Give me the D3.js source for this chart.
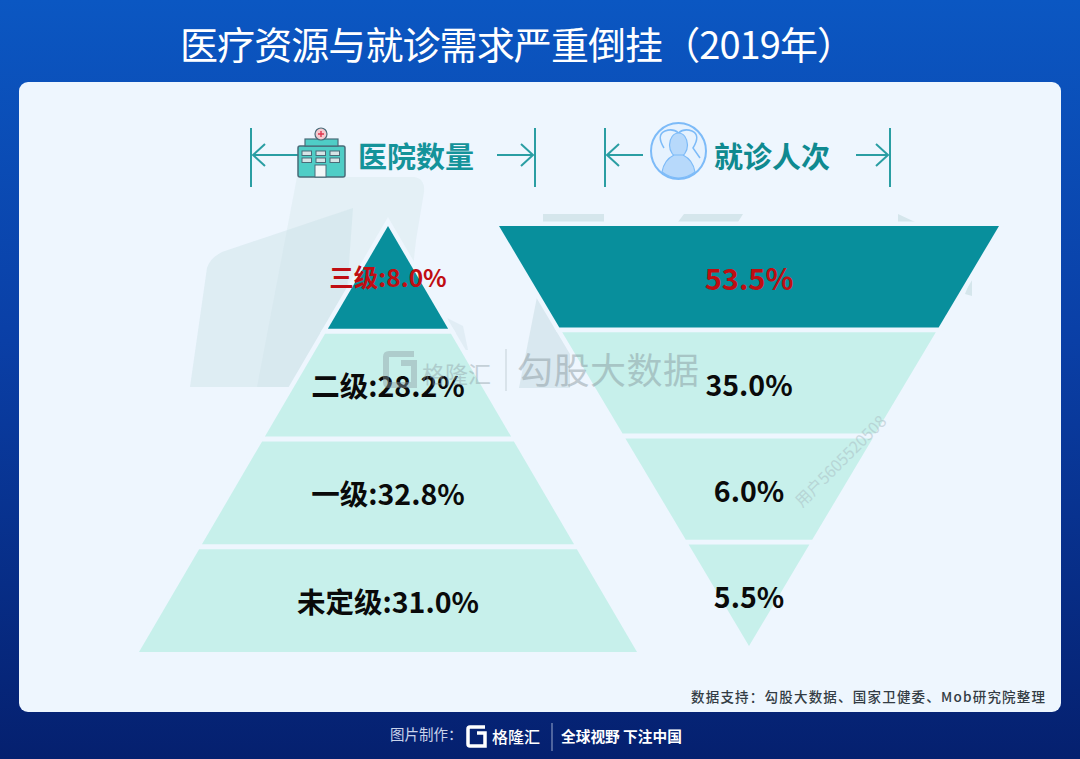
<!DOCTYPE html>
<html>
<head>
<meta charset="utf-8">
<script src="https://cdn.jsdelivr.net/npm/d3@7"></script>
<style>
  html, body { margin: 0; padding: 0; background: #0a2a8a; }
  svg { display: block; }
  text { font-family: "Noto Sans CJK SC", "Noto Sans", sans-serif; }
</style>
</head>
<body>
<div id="chart"></div>
<script>
// Chart data
var titleText = "医疗资源与就诊需求严重倒挂（2019年）";
var sourceText = "数据支持：勾股大数据、国家卫健委、Mob研究院整理";
var hospitalHeader = "医院数量";
var visitHeader = "就诊人次";
var tiers = ["三级", "二级", "一级", "未定级"];
var hospitalShare = [8.0, 28.2, 32.8, 31.0];
var visitShare = [53.5, 35.0, 6.0, 5.5];

var svgWidth = 1080;
var svgHeight = 759;
var cardColor = "#eef6fe";

var svg = d3.select("#chart").append("svg")
  .attr("width", svgWidth)
  .attr("height", svgHeight);

// Page background and card
var defs = svg.append("defs");
var grad = defs.append("linearGradient")
  .attr("id", "bg").attr("x1", 0).attr("y1", 0).attr("x2", 0).attr("y2", 1);
grad.append("stop").attr("offset", "0%").attr("stop-color", "#0b57c2");
grad.append("stop").attr("offset", "45%").attr("stop-color", "#0a3fa6");
grad.append("stop").attr("offset", "100%").attr("stop-color", "#05206f");

svg.append("rect").attr("width", svgWidth).attr("height", svgHeight).attr("fill", "url(#bg)");
svg.append("rect")
  .attr("x", 19).attr("y", 82).attr("width", 1042).attr("height", 630).attr("rx", 9)
  .attr("fill", cardColor);

svg.append("text")
  .attr("x", 180).attr("y", 59)
  .attr("font-size", 38).attr("font-weight", 400).attr("fill", "#fff")
  .attr("textLength", 675)
  .text(titleText);

// Faint shapes behind the pyramids, the halo in drawStack trims them
var ghost = svg.append("g");
ghost.append("path")
  .attr("d", "M297 177 H414 Q425 178 424 192 L416 240 L400 387 H257 Z")
  .attr("fill", "#cfe6e8").attr("opacity", 0.34);
ghost.append("path")
  .attr("d", "M353 208 L340 387 H190 L207 268 Q210 258 222 252 Z")
  .attr("fill", "#c9e0e4").attr("opacity", 0.42);
ghost.append("path")
  .attr("d", "M447 318 L463 326 L468 350 L455 350 Z")
  .attr("fill", "#c9dce4").attr("opacity", 0.35);
ghost.append("path")
  .attr("d", "M537 297 L519 388 H570 V340 Z")
  .attr("fill", "#c9dce4").attr("opacity", 0.55);
ghost.append("path").attr("d", "M543 214 H604 V222 H543 Z").attr("fill", "#d5e6ec");
ghost.append("path").attr("d", "M684 214 H743 L738 222 H678 Z").attr("fill", "#d5e6ec");
ghost.append("path").attr("d", "M898 214 L915 222 H898 Z").attr("fill", "#d5e6ec");
ghost.append("path").attr("d", "M972 276 V296 L965 294 Z").attr("fill", "#d5e6ec");

// Both shapes share the same rows; only the outline direction differs
function drawStack(opts) {
  var g = svg.append("g");

  var yScale = d3.scaleBand()
    .domain(tiers)
    .range(opts.yRange)
    .paddingInner(opts.gap);

  // half width grows linearly from the tip to the wide end
  var halfWidth = d3.scaleLinear()
    .domain([opts.tipY, opts.wideY])
    .range([0, opts.maxHalf]);

  var outline = d3.line();

  function sliceCorners(t) {
    var y0 = yScale(t);
    var y1 = y0 + yScale.bandwidth();
    return [
      [opts.cx - halfWidth(y0), y0],
      [opts.cx + halfWidth(y0), y0],
      [opts.cx + halfWidth(y1), y1],
      [opts.cx - halfWidth(y1), y1]
    ];
  }

  // card coloured halo under the slices
  g.selectAll("path.halo").data(tiers).enter()
    .append("path")
    .attr("class", "halo")
    .attr("d", function(t) { return outline(sliceCorners(t)) + "Z"; })
    .attr("fill", cardColor)
    .attr("stroke", cardColor)
    .attr("stroke-width", 9);

  g.selectAll("path.slice").data(tiers).enter()
    .append("path")
    .attr("class", "slice")
    .attr("d", function(t) { return outline(sliceCorners(t)) + "Z"; })
    .attr("fill", function(t, i) { return i === 0 ? "#088f9c" : "#c7f0eb"; });

  g.selectAll("text.value").data(tiers).enter()
    .append("text")
    .attr("class", "value")
    .attr("x", opts.cx)
    .attr("y", function(t, i) { return yScale(t) + yScale.bandwidth() / 2 + (i === 0 ? opts.firstDy : opts.textDy); })
    .attr("text-anchor", "middle")
    .attr("font-size", function(t, i) { return i === 0 ? opts.firstFont : 28.5; })
    .attr("font-weight", 700)
    .attr("fill", function(t, i) { return i === 0 ? "#c00d12" : "#0a0a0a"; })
    .text(function(t, i) { return opts.label(t, opts.values[i]); });
}

drawStack({
  values: hospitalShare,
  cx: 388, tipY: 226, wideY: 652, maxHalf: 249,
  yRange: [226, 652], gap: 0.045, textDy: 12, firstDy: 10, firstFont: 24.5,
  label: function(t, v) { return t + ":" + v.toFixed(1) + "%"; }
});

drawStack({
  values: visitShare,
  cx: 749, tipY: 646, wideY: 226, maxHalf: 250,
  yRange: [226, 646], gap: 0.045, textDy: 13, firstDy: 13, firstFont: 29,
  label: function(t, v) { return v.toFixed(1) + "%"; }
});

// Column headers with dimension arrows
function drawBracket(x0, x1, arrowL, arrowR) {
  var g = svg.append("g")
    .attr("stroke", "#2a9ea3").attr("stroke-width", 2).attr("fill", "none");
  g.append("path").attr("d", "M" + x0 + " 128 V187 M" + x1 + " 128 V187");
  g.append("path").attr("d", "M" + arrowL + " 155 H" + (x0 + 2) + " M" + (x0 + 14) + " 144 L" + (x0 + 2) + " 155 L" + (x0 + 14) + " 166");
  g.append("path").attr("d", "M" + arrowR + " 155 H" + (x1 - 2) + " M" + (x1 - 14) + " 144 L" + (x1 - 2) + " 155 L" + (x1 - 14) + " 166");
}
drawBracket(251, 535, 298, 497);
drawBracket(605, 890, 643, 856);

svg.append("text").attr("x", 358).attr("y", 168)
  .attr("font-size", 29).attr("font-weight", 700).attr("fill", "#14939a")
  .text(hospitalHeader);
svg.append("text").attr("x", 714).attr("y", 168)
  .attr("font-size", 29).attr("font-weight", 700).attr("fill", "#0f8a90")
  .text(visitHeader);

// Hospital icon
var hosp = svg.append("g");
hosp.append("rect").attr("x", 298).attr("y", 146).attr("width", 47).attr("height", 31).attr("rx", 2)
  .attr("fill", "#4fcdc6").attr("stroke", "#4a6b78").attr("stroke-width", 1.5);
hosp.append("rect").attr("x", 305).attr("y", 139).attr("width", 33).attr("height", 7)
  .attr("fill", "#4fcdc6").attr("stroke", "#4a6b78").attr("stroke-width", 1.2);
hosp.append("circle").attr("cx", 321).attr("cy", 134).attr("r", 6)
  .attr("fill", "#f4c9cf").attr("stroke", "#4a6b78").attr("stroke-width", 1.2);
hosp.append("path").attr("d", "M321 131 V137 M318 134 H324").attr("stroke", "#e0364e").attr("stroke-width", 1.4);
[302, 316, 330].forEach(function(x) {
  [151, 158].forEach(function(y) {
    hosp.append("rect").attr("x", x).attr("y", y).attr("width", 9.5).attr("height", 4.5)
      .attr("fill", "#d6e4e6").attr("stroke", "#4a6b78").attr("stroke-width", 1);
  });
});
hosp.append("rect").attr("x", 315).attr("y", 165).attr("width", 11).attr("height", 12)
  .attr("fill", "#f2f7f8").attr("stroke", "#4a6b78").attr("stroke-width", 1);

// Person icon
var person = svg.append("g");
person.append("ellipse").attr("cx", 678.5).attr("cy", 151).attr("rx", 27.5).attr("ry", 28)
  .attr("fill", "#e6f2fe").attr("stroke", "#7dbbf8").attr("stroke-width", 2);
person.append("path").attr("d", "M664 148 Q656 135 665 131 Q673 128 678.5 133 Q684 128 692 131 Q701 135 693 148 L700 158")
  .attr("fill", "none").attr("stroke", "#7dbbf8").attr("stroke-width", 1.5);
person.append("ellipse").attr("cx", 678.5).attr("cy", 145).attr("rx", 9).attr("ry", 12)
  .attr("fill", "#b7d9fb").attr("stroke", "#7dbbf8").attr("stroke-width", 1.2);
person.append("path").attr("d", "M662 172 Q664 160 674 155 L683 155 Q693 160 695 172 Q687 178 678.5 178 Q670 178 662 172 Z")
  .attr("fill", "#b7d9fb").attr("stroke", "#7dbbf8").attr("stroke-width", 1.2);

// Watermarks
var mark = svg.append("g").attr("opacity", 0.42);
mark.append("path")
  .attr("d", "M386 371 V357 Q386 354 389 354 H414 M414 363 H401 M401 363 H414 V385 H389 Q386 385 386 382 V371")
  .attr("fill", "none").attr("stroke", "#8c9ca3").attr("stroke-width", 6);
mark.append("text").attr("x", 422).attr("y", 383)
  .attr("font-size", 23).attr("fill", "#8c9ca3").text("格隆汇");
mark.append("path").attr("d", "M506 349 V391").attr("stroke", "#8c9ca3").attr("stroke-width", 1);
mark.append("text").attr("x", 517).attr("y", 384)
  .attr("font-size", 36).attr("fill", "#7d8c93").attr("textLength", 182).text("勾股大数据");
svg.append("text")
  .attr("transform", "translate(802,508) rotate(-45)")
  .attr("font-size", 16).attr("fill", "#a9bcc2").attr("opacity", 0.5)
  .text("用户5605520508");

// Source line and footer
svg.append("text").attr("x", 1045).attr("y", 702)
  .attr("text-anchor", "end").attr("font-size", 13.5).attr("font-weight", 500)
  .attr("fill", "#333c44").attr("textLength", 354)
  .text(sourceText);

svg.append("text").attr("x", 390).attr("y", 740)
  .attr("font-size", 14.5).attr("fill", "#c9d3ea").text("图片制作：");
svg.append("path")
  .attr("d", "M468 735 V729 Q468 727 470 727 H485 M485 733 H477 H485 V746 H470 Q468 746 468 744 V735")
  .attr("fill", "none").attr("stroke", "#fff").attr("stroke-width", 3.5);
svg.append("text").attr("x", 492).attr("y", 743)
  .attr("font-size", 16).attr("font-weight", 500).attr("fill", "#fff").text("格隆汇");
svg.append("path").attr("d", "M552 723 V751").attr("stroke", "#9aa8cc").attr("stroke-width", 1);
svg.append("text").attr("x", 561).attr("y", 742)
  .attr("font-size", 14.7).attr("font-weight", 700).attr("fill", "#fff").text("全球视野 下注中国");
</script>
</body>
</html>
